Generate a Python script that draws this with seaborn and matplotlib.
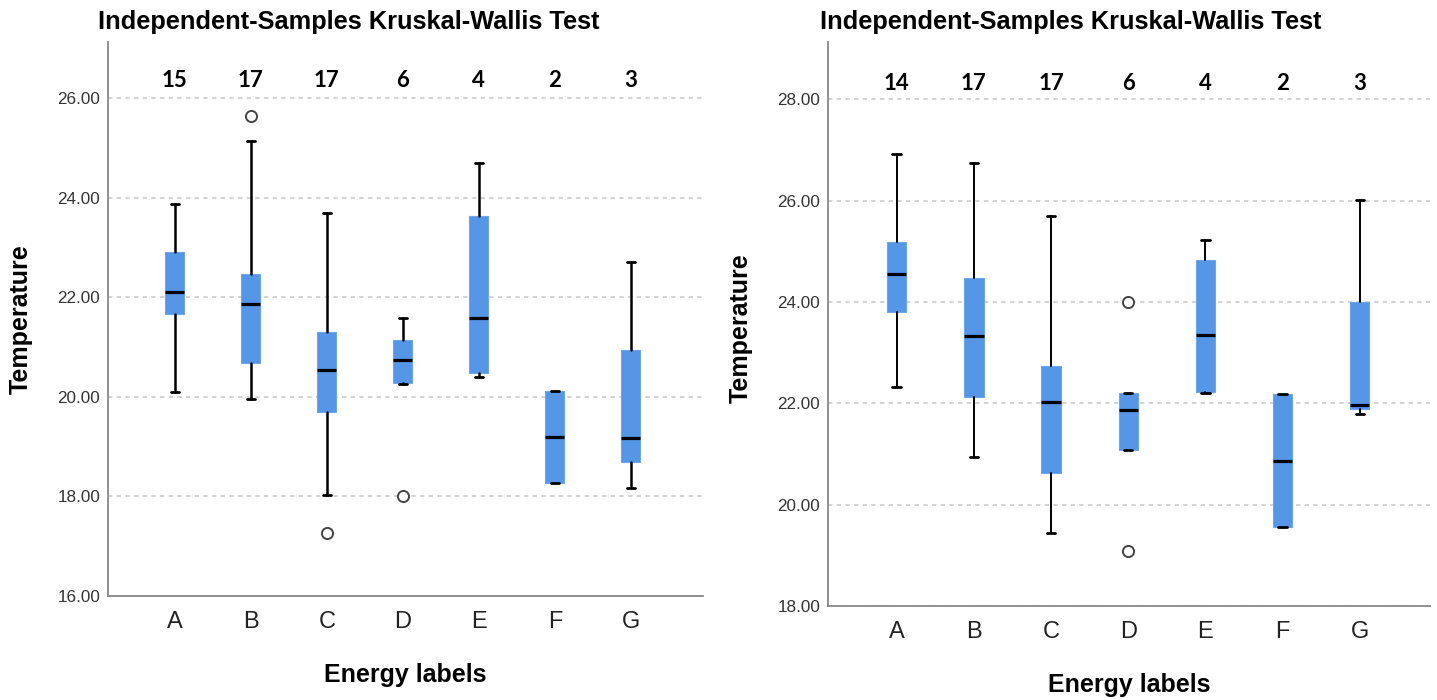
import matplotlib
matplotlib.use("Agg")
import matplotlib.pyplot as plt
import seaborn as sns

# ---------------- data ----------------
categories = ["A", "B", "C", "D", "E", "F", "G"]

left_counts = [15, 17, 17, 6, 4, 2, 3]
left_whislo = [20.09, 19.95, 18.03, 20.25, 20.39, 18.28, 18.16]
left_q1 = [21.67, 20.68, 19.70, 20.27, 20.49, 18.28, 18.69]
left_med = [22.11, 21.87, 20.54, 20.74, 21.59, 19.19, 19.17]
left_q3 = [22.92, 22.47, 21.30, 21.14, 23.64, 20.11, 20.94]
left_whishi = [23.88, 25.14, 23.69, 21.59, 24.69, 20.11, 22.72]
left_fliers = [[], [25.65], [17.26], [18.00], [], [], []]
left_yticks = [16, 18, 20, 22, 24, 26]

right_counts = [14, 17, 17, 6, 4, 2, 3]
right_whislo = [22.32, 20.95, 19.45, 21.07, 22.20, 19.56, 21.78]
right_q1 = [23.80, 22.13, 20.63, 21.07, 22.23, 19.56, 21.89]
right_med = [24.55, 23.33, 22.02, 21.86, 23.35, 20.87, 21.97]
right_q3 = [25.18, 24.47, 22.73, 22.20, 24.82, 22.18, 23.99]
right_whishi = [26.92, 26.74, 25.70, 22.20, 25.23, 22.18, 26.01]
right_fliers = [[], [], [], [23.99, 19.08], [], [], []]
right_yticks = [18, 20, 22, 24, 26, 28]

title_text = "Independent-Samples Kruskal-Wallis Test"
ylabel_text = "Temperature"
xlabel_text = "Energy labels"

# ---------------- style ----------------
sns.set_theme(style="white")
plt.rcParams['font.family'] = ['Liberation Sans', 'DejaVu Sans']

BOX = "#5596E6"
W, H = 1437, 700
fig = plt.figure(figsize=(W / 100, H / 100), dpi=100)


def px_rect(x0, x1, ytop, ybot):
    return [x0 / W, (H - ybot) / H, (x1 - x0) / W, (ybot - ytop) / H]


def panel(rect, counts, wlo, q1, med, q3, whi, fliers, yticks, ylim, xlim,
          count_y, xpad, wlw):
    ax = fig.add_axes(rect)
    stats = []
    for i, c in enumerate(categories):
        stats.append(dict(label=c, whislo=wlo[i], q1=q1[i], med=med[i],
                          q3=q3[i], whishi=whi[i], fliers=fliers[i]))
    ax.bxp(stats, positions=range(len(categories)), widths=0.25,
           capwidths=0.11, patch_artist=True, showfliers=True,
           boxprops=dict(facecolor=BOX, edgecolor="#6EA6EA", linewidth=0.8),
           medianprops=dict(color="black", linewidth=2.3, solid_capstyle="butt"),
           whiskerprops=dict(color="black", linewidth=wlw),
           capprops=dict(color="black", linewidth=2.0),
           flierprops=dict(marker="o", markerfacecolor="white",
                           markeredgecolor="#444444", markersize=8,
                           markeredgewidth=1.4, linestyle="none"),
           zorder=3)
    ax.set_ylim(*ylim)
    ax.set_xlim(*xlim)
    ax.set_yticks(yticks)
    ax.set_yticklabels([f"{v:.2f}" for v in yticks], fontsize=12.3, color="#333333")
    ax.set_xticks(range(len(categories)))
    ax.set_xticklabels(categories, fontsize=17, color="#222222")
    ax.tick_params(axis="both", length=0)
    ax.tick_params(axis="y", pad=5.5)
    ax.tick_params(axis="x", pad=xpad)
    ax.yaxis.grid(True, color="#CCCCCC", linestyle=(0, (2.6, 2.6)),
                  linewidth=1.2, zorder=0)
    ax.xaxis.grid(False)
    ax.set_axisbelow(True)
    sns.despine(ax=ax)
    for s in ("left", "bottom"):
        ax.spines[s].set_color("#888888")
        ax.spines[s].set_linewidth(1.3)
    ax.set_facecolor("white")
    for i, n in enumerate(counts):
        ax.text(i, count_y, str(n), transform=ax.get_xaxis_transform(),
                ha="center", va="center", fontsize=16, fontweight="bold",
                family=["Lato", "DejaVu Sans"], color="black")
    return ax


panel(px_rect(108, 703, 42, 596), left_counts, left_whislo, left_q1, left_med,
      left_q3, left_whishi, left_fliers, left_yticks, (16, 27.13),
      (-0.88, 6.95), 0.931, 11.0, 1.8)
panel(px_rect(828, 1430, 42, 606), right_counts, right_whislo, right_q1,
      right_med, right_q3, right_whishi, right_fliers, right_yticks,
      (18, 29.13), (-0.89, 6.91), 0.927, 10.8, 1.4)

# titles and axis labels
fig.text(349 / W, 1 - 22 / H, title_text, ha="center", va="center",
         fontsize=18.3, fontweight="bold", color="black")
fig.text(1071 / W, 1 - 22 / H, title_text, ha="center", va="center",
         fontsize=18.3, fontweight="bold", color="black")
fig.text(21 / W, 1 - 319 / H, ylabel_text, rotation=90, ha="center",
         va="center", fontsize=18, fontweight="bold", color="black")
fig.text(741 / W, 1 - 328 / H, ylabel_text, rotation=90, ha="center",
         va="center", fontsize=18, fontweight="bold", color="black")
fig.text(405 / W, 1 - 675 / H, xlabel_text, ha="center", va="center",
         fontsize=18, fontweight="bold", color="black")
fig.text(1129 / W, 1 - 685 / H, xlabel_text, ha="center", va="center",
         fontsize=18, fontweight="bold", color="black")

fig.savefig("out.png", dpi=100, facecolor="white")
